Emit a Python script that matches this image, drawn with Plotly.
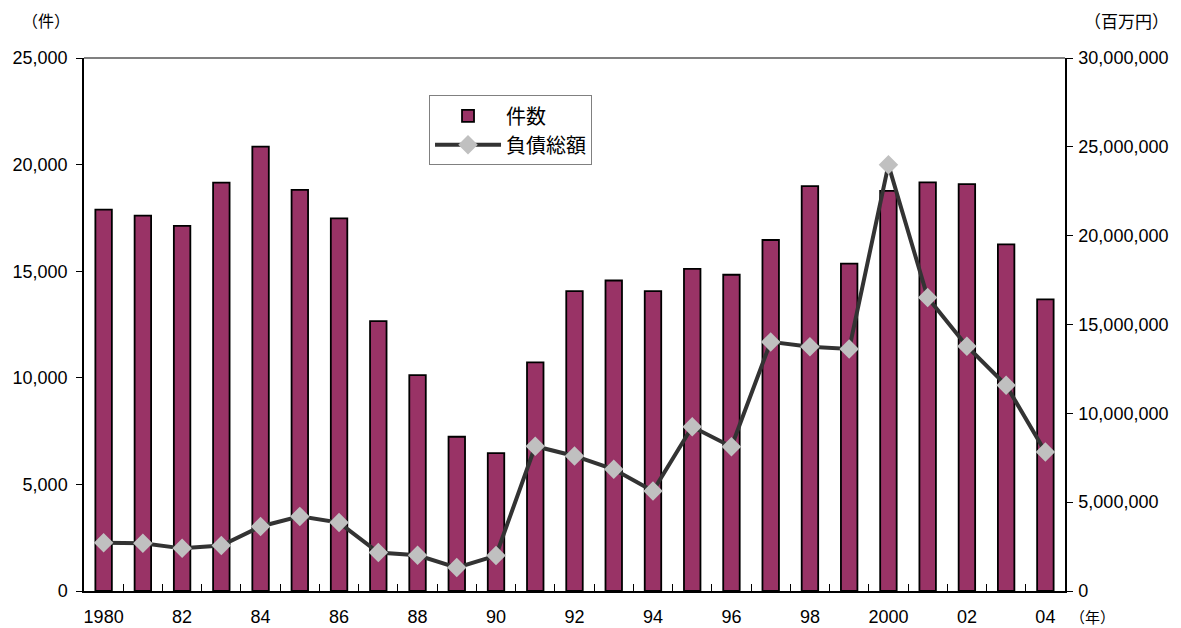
import plotly.graph_objects as go

years = list(range(1980, 2005))
counts = [17884, 17610, 17122, 19155, 20841, 18812, 17476, 12655, 10122, 7234,
          6468, 10723, 14069, 14564, 14061, 15108, 14834, 16464, 18988, 15352,
          18769, 19164, 19087, 16255, 13679]
debt = [2720000, 2690000, 2400000, 2560000, 3630000, 4200000, 3850000, 2160000, 2010000, 1320000,
        1996000, 8149000, 7602000, 6848000, 5629000, 9241000, 8123000, 14021000, 13748000, 13621000,
        23987000, 16520000, 13782000, 11582000, 7818000]
xtick_vals = list(range(1980, 2005, 2))
xtick_text = ["1980", "82", "84", "86", "88", "90", "92", "94", "96", "98", "2000", "02", "04"]
category_edges = [y + 0.5 for y in range(1979, 2005)]
left_ticks = [0, 5000, 10000, 15000, 20000, 25000]
right_ticks = [0, 5000000, 10000000, 15000000, 20000000, 25000000, 30000000]

FONT = "Liberation Sans, Arial, Noto Sans CJK JP, sans-serif"
JFONT = "Noto Sans CJK JP"

# page body has an 8px margin, so the figure is offset by 8px
W, H = 1173, 620
L, T = 76, 50
PR, PB = 1057, 583  # plot right / bottom in figure coordinates

fig = go.Figure()
fig.add_trace(go.Bar(
    x=years, y=counts, name="件数", width=0.42,
    marker=dict(color="#993366", line=dict(color="#000000", width=1.8)),
))
fig.add_trace(go.Scatter(
    x=years, y=debt, name="負債総額", xaxis="x2", yaxis="y2", mode="lines+markers",
    line=dict(color="#333333", width=4),
    marker=dict(symbol="diamond", size=15, color="#C0C0C0", line=dict(width=0)),
))

fig.update_layout(
    width=W, height=H,
    margin=dict(l=L, r=W - PR, t=T, b=H - PB, autoexpand=False),
    paper_bgcolor="white", plot_bgcolor="white",
    font=dict(family=FONT, size=18, color="#000000"),
    showlegend=True,
    legend=dict(x=0.3517, y=0.93, xanchor="left", yanchor="top",
                bordercolor="#808080", borderwidth=1, bgcolor="white",
                font=dict(family=JFONT, size=20), itemwidth=66, tracegroupgap=0),
    xaxis=dict(range=[1979.5, 2004.5], tickmode="array", tickvals=xtick_vals, ticktext=xtick_text,
               ticks="", showline=True, linecolor="#000000", linewidth=1.5, showgrid=False,
               zeroline=False, automargin=False, tickfont=dict(size=18), ticklabelstandoff=9),
    xaxis2=dict(range=[1979.5, 2004.5], overlaying="x", anchor="y", side="bottom",
                tickmode="array", tickvals=category_edges, ticks="inside", ticklen=7,
                tickcolor="#000000", tickwidth=1.2, showticklabels=False, showline=False,
                showgrid=False, zeroline=False, automargin=False),
    yaxis=dict(range=[0, 25000], tickmode="array", tickvals=left_ticks,
               ticktext=[f"{v:,}" for v in left_ticks], ticks="outside", ticklen=6,
               tickcolor="#000000", showline=True, linecolor="#000000", linewidth=1.5,
               showgrid=False, zeroline=False, automargin=False, tickfont=dict(size=18),
               ticklabelstandoff=5),
    yaxis2=dict(range=[0, 30000000], overlaying="y", side="right", tickmode="array",
                tickvals=right_ticks, ticktext=[f"{v:,}" for v in right_ticks],
                ticks="outside", ticklen=6, tickcolor="#000000", showline=True,
                linecolor="#000000", linewidth=1.5, showgrid=False, zeroline=False,
                automargin=False, tickfont=dict(size=18), ticklabelstandoff=2),
    shapes=[dict(type="line", xref="paper", yref="paper", x0=0, x1=1, y0=1, y1=1,
                 line=dict(color="#808080", width=2))],
    annotations=[
        dict(text="（件）", xref="paper", yref="paper", x=0, y=1, xshift=-64, yshift=38,
             xanchor="left", yanchor="middle", showarrow=False, font=dict(family=JFONT, size=16)),
        dict(text="（百万円）", xref="paper", yref="paper", x=1, y=1, xshift=17, yshift=38,
             xanchor="left", yanchor="middle", showarrow=False, font=dict(family=JFONT, size=17)),
        dict(text="（年）", xref="paper", yref="paper", x=1, y=0, xshift=3, yshift=-25,
             xanchor="left", yanchor="middle", showarrow=False, font=dict(family=JFONT, size=15)),
    ],
)

fig.write_html("out.html")
